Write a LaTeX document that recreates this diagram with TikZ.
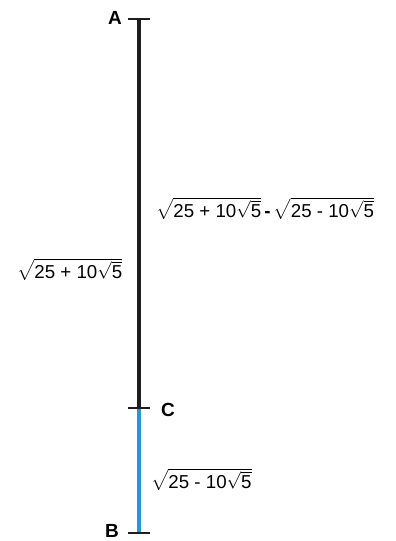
\documentclass[tikz,border=0pt]{standalone}
\usepackage{amsmath}
\usepackage{fontspec}
\setmainfont{Liberation Sans}
\usepackage{tikz}
\usetikzlibrary{calc}
\definecolor{segblue}{RGB}{38,152,214}
\definecolor{segdark}{RGB}{30,30,30}
\newcommand{\lenfont}{\fontsize{18.7}{21}\selectfont}

\begin{document}
\begin{tikzpicture}[x=1pt,y=-1pt,line join=round,
    tick/.style={line width=1.4pt,segdark},
    ptlabel/.style={font=\fontsize{19}{21}\selectfont\bfseries,inner sep=0pt},
    lenlabel/.style={font=\lenfont,inner sep=0pt,anchor=base west}]
  \useasboundingbox (0,0) rectangle (396,541);
  \coordinate (a) at (139,19);
  \coordinate (c) at (139,408);
  \coordinate (b) at (139,533);
  \draw[line width=3.2pt,segdark] (a) -- (c);
  \draw[line width=3.2pt,segblue] (c) -- (b);
  \foreach \p in {a,c,b}
    \draw[tick] ($(\p)+(-11,0)$) -- ($(\p)+(11,0)$);
  \node[ptlabel] (la) at (115,18) {A};
  \node[ptlabel] (lc) at (168,410) {C};
  \node[ptlabel] (lb) at (112,531) {B};
  \node[lenlabel] (diff) at (156,217)
    {$\sqrt{\text{\lenfont 25 + 10}\sqrt{\text{\lenfont 5}}}$\,\textbf{-}\,$\sqrt{\text{\lenfont 25 - 10}\sqrt{\text{\lenfont 5}}}$};
  \node[lenlabel] (ab) at (17,278)
    {$\sqrt{\text{\lenfont 25 + 10}\sqrt{\text{\lenfont 5}}}$};
  \node[lenlabel] (cb) at (151,488)
    {$\sqrt{\text{\lenfont 25 - 10}\sqrt{\text{\lenfont 5}}}$};
\end{tikzpicture}
\end{document}
